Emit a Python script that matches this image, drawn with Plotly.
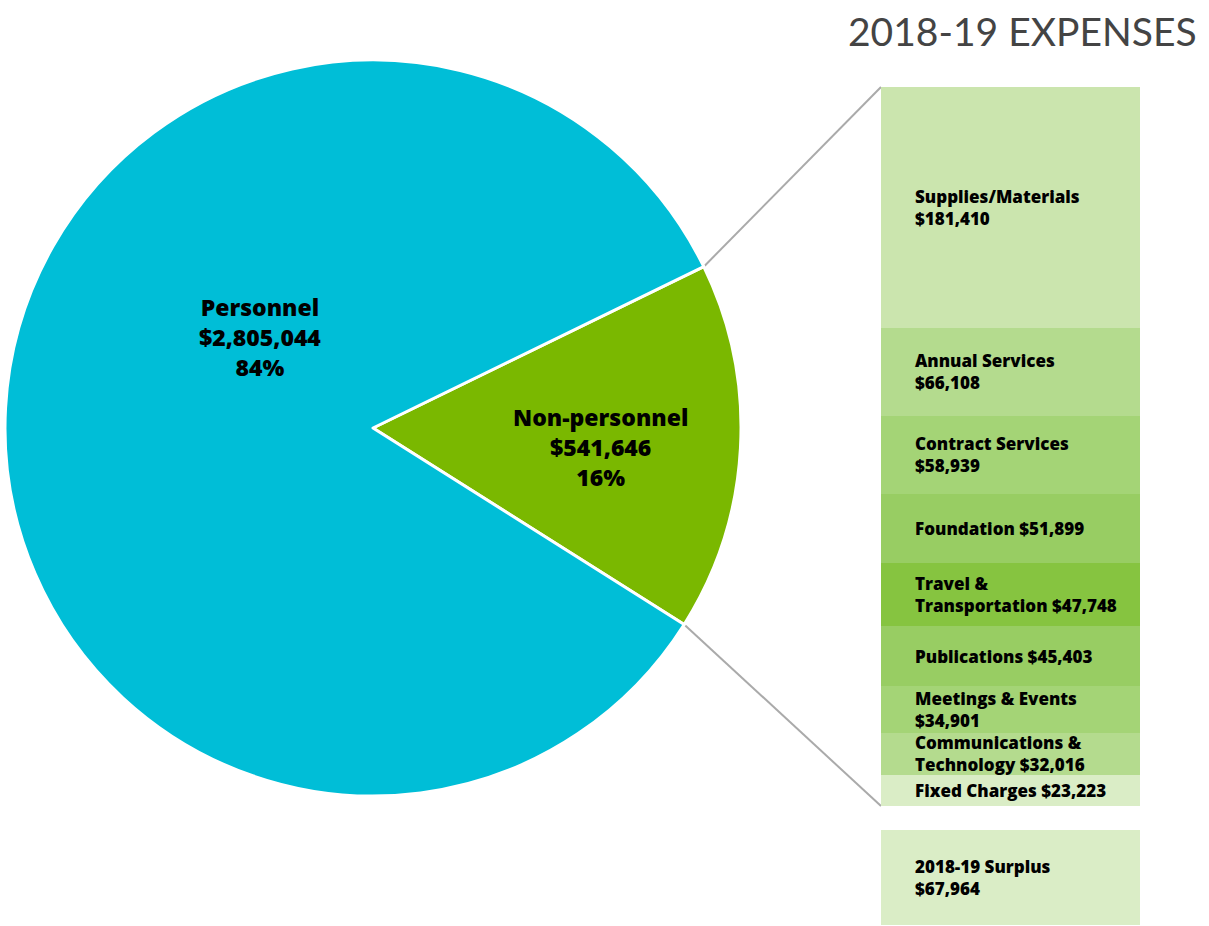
import math
import plotly.graph_objects as go

# ---- data ----
pie_labels = ["Non-personnel", "Personnel"]
pie_values = [541646, 2805044]
pie_pcts = ["16%", "84%"]
pie_colors = ["#7AB800", "#00BED7"]

cat_labels = [
    "Supplies/Materials<br>$181,410",
    "Annual Services<br>$66,108",
    "Contract Services<br>$58,939",
    "Foundation $51,899",
    "Travel &<br>Transportation $47,748",
    "Publications $45,403",
    "Meetings & Events<br>$34,901",
    "Communications &<br>Technology $32,016",
    "Fixed Charges $23,223",
]
cat_values = [181410, 66108, 58939, 51899, 47748, 45403, 34901, 32016, 23223]
cat_colors = ["#CBE5AE", "#B4DB8E", "#A4D476", "#98CD63", "#86C440",
              "#98CD63", "#A4D476", "#B4DB8E", "#DAEDC6"]

surplus_label = "2018-19 Surplus<br>$67,964"
surplus_value = 67964
surplus_color = "#DAEDC6"

title_text = "2018-19 EXPENSES"

# ---- layout constants ----
W, H = 1209, 926
cx, cy, R = 373, 428, 368
rotation = 64
bar_x0, bar_x1 = 881, 1140
bar_y0, bar_y1 = 87, 806
sur_y0, sur_y1 = 830, 925

def px(x):
    return x / W

def py(y):
    return 1 - y / H

FONT = "'Open Sans', Lato, sans-serif"
TFONT = "Lato, 'Open Sans', sans-serif"

fig = go.Figure()

fig.add_trace(go.Pie(
    labels=pie_labels, values=pie_values, sort=False, direction="clockwise",
    rotation=rotation, marker=dict(colors=pie_colors, line=dict(color="white", width=3)),
    textinfo="none", hoverinfo="label+value+percent", showlegend=False,
    domain=dict(x=[px(cx - R), px(cx + R)], y=[py(cy + R), py(cy - R)]),
))

# stacked bar (top to bottom in listed order)
total = sum(cat_values)
bases = []
acc = total
for v in cat_values:
    acc -= v
    bases.append(acc)

fig.add_trace(go.Bar(
    x=[0] * len(cat_values), y=cat_values, base=bases, width=1,
    marker=dict(color=cat_colors, line=dict(width=0)),
    hoverinfo="y", showlegend=False, xaxis="x", yaxis="y",
))
fig.add_trace(go.Bar(
    x=[0], y=[surplus_value], base=[0], width=1,
    marker=dict(color=surplus_color, line=dict(width=0)),
    hoverinfo="y", showlegend=False, xaxis="x", yaxis="y2",
))

annotations = []
bar_font = dict(family=FONT, size=17, color="#000", weight=800)
for lab, v, b in zip(cat_labels, cat_values, bases):
    annotations.append(dict(
        x=-0.5, y=b + v / 2, xref="x", yref="y", xanchor="left", yanchor="middle",
        xshift=32, text=lab, showarrow=False, align="left", font=bar_font,
    ))
annotations.append(dict(
    x=-0.5, y=surplus_value / 2, xref="x", yref="y2", xanchor="left", yanchor="middle",
    xshift=32, text=surplus_label, showarrow=False, align="left", font=bar_font,
))

# pie labels
pie_font = dict(family=FONT, size=23, color="#000", weight=800)
annotations.append(dict(
    x=px(197), y=py(337), xref="paper", yref="paper", showarrow=False,
    text="Personnel<br>$2,805,044<br>" + pie_pcts[1], font=pie_font, align="center",
))
annotations.append(dict(
    x=px(600), y=py(447), xref="paper", yref="paper", showarrow=False,
    text="Non-personnel<br>$541,646<br>" + pie_pcts[0], font=pie_font, align="center",
))
annotations.append(dict(
    x=px(1199), y=py(31), xref="paper", yref="paper", xanchor="right", yanchor="middle",
    showarrow=False, text=title_text,
    font=dict(family=TFONT, size=39, color="#444444"),
))

# connector lines from slice edges to bar corners
frac = pie_values[0] / sum(pie_values)
a_start = math.radians(90 - rotation)
a_end = a_start - 2 * math.pi * frac
p1 = (cx + R * math.cos(a_start), cy - R * math.sin(a_start))
p2 = (cx + R * math.cos(a_end), cy - R * math.sin(a_end))
shapes = [
    dict(type="line", xref="paper", yref="paper", x0=px(p1[0]), y0=py(p1[1]),
         x1=px(bar_x0), y1=py(bar_y0), line=dict(color="#AAAAAA", width=2), layer="below"),
    dict(type="line", xref="paper", yref="paper", x0=px(p2[0]), y0=py(p2[1]),
         x1=px(bar_x0), y1=py(bar_y1), line=dict(color="#AAAAAA", width=2), layer="below"),
]

fig.update_layout(
    width=W, height=H, margin=dict(l=0, r=0, t=0, b=0),
    paper_bgcolor="white", plot_bgcolor="rgba(0,0,0,0)",
    barmode="overlay", bargap=0,
    xaxis=dict(domain=[px(bar_x0), px(bar_x1)], range=[-0.5, 0.5], visible=False, fixedrange=True),
    yaxis=dict(domain=[py(bar_y1), py(bar_y0)], range=[0, total], visible=False, fixedrange=True),
    yaxis2=dict(domain=[py(sur_y1), py(sur_y0)], range=[0, surplus_value], visible=False,
                anchor="x", fixedrange=True),
    annotations=annotations, shapes=shapes,
)

fig.write_html("out.html", config=dict(displayModeBar=False),
               post_script="document.body.style.margin='0px';document.body.style.overflow='hidden';")
